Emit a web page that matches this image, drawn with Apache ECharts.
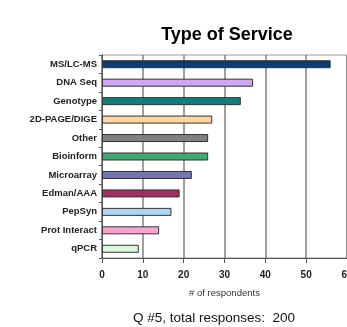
<!DOCTYPE html>
<html>
<head>
<meta charset="utf-8">
<script src="https://cdn.jsdelivr.net/npm/echarts@6/dist/echarts.min.js"></script>
<style>
  html, body { margin: 0; padding: 0; background: #fff; }
  #chart { width: 347px; height: 327px; }
</style>
</head>
<body>
<div id="chart"></div>
<script>
// services, top to bottom
var services = ['MS/LC-MS', 'DNA Seq', 'Genotype', '2D-PAGE/DIGE', 'Other', 'Bioinform',
                'Microarray', 'Edman/AAA', 'PepSyn', 'Prot Interact', 'qPCR'];
var respondents = [56, 37, 34, 27, 26, 26, 22, 19, 17, 14, 9];
var barColors = ['#0b3b6f', '#cfa6f2', '#0e7f7c', '#ffd6a0', '#808080', '#3caa72',
                 '#7474b2', '#a1305f', '#aad6fa', '#f8a4d0', '#dcf8dc'];

var chart = echarts.init(document.getElementById('chart'));

chart.setOption({
  animation: false,
  title: [
    {
      text: 'Type of Service',
      left: 222, top: 21, textAlign: 'center',
      textStyle: { fontFamily: 'Liberation Sans', fontSize: 18, fontWeight: 'bold', color: '#000' }
    },
    {
      text: 'Q #5, total responses:  200',
      left: 209, top: 306, textAlign: 'center',
      textStyle: { fontFamily: 'Liberation Sans', fontSize: 13.5, fontWeight: 'normal', color: '#111' }
    }
  ],
  grid: {
    left: 102, right: 0, top: 55, bottom: 69,
    outerBoundsMode: 'none',
    show: true, borderColor: '#999', borderWidth: 1
  },
  xAxis: {
    type: 'value', min: 0, max: 60, interval: 10,
    name: '# of respondents', nameLocation: 'middle', nameGap: 30,
    nameTextStyle: { fontFamily: 'Liberation Sans', fontSize: 9.5, color: '#333' },
    axisLine: { show: true, lineStyle: { color: '#555' } },
    axisTick: { show: true, length: 5, lineStyle: { color: '#555' } },
    axisLabel: { margin: 12, fontFamily: 'Liberation Sans', fontSize: 10, fontWeight: 'bold', color: '#222' },
    splitLine: { show: true, lineStyle: { color: '#808080', width: 1.5 } }
  },
  yAxis: {
    type: 'category', data: services, inverse: true,
    axisLine: { show: true, lineStyle: { color: '#555' } },
    axisTick: { show: true, length: 3, lineStyle: { color: '#555' } },
    axisLabel: { margin: 5, fontFamily: 'Liberation Sans', fontSize: 9.5, fontWeight: 'bold', color: '#222' }
  },
  series: [{
    type: 'bar',
    barWidth: 8,
    data: respondents.map(function (v, i) {
      return { value: v, itemStyle: { color: barColors[i] } };
    }),
    itemStyle: { borderColor: '#333', borderWidth: 1 }
  }]
});
</script>
</body>
</html>
